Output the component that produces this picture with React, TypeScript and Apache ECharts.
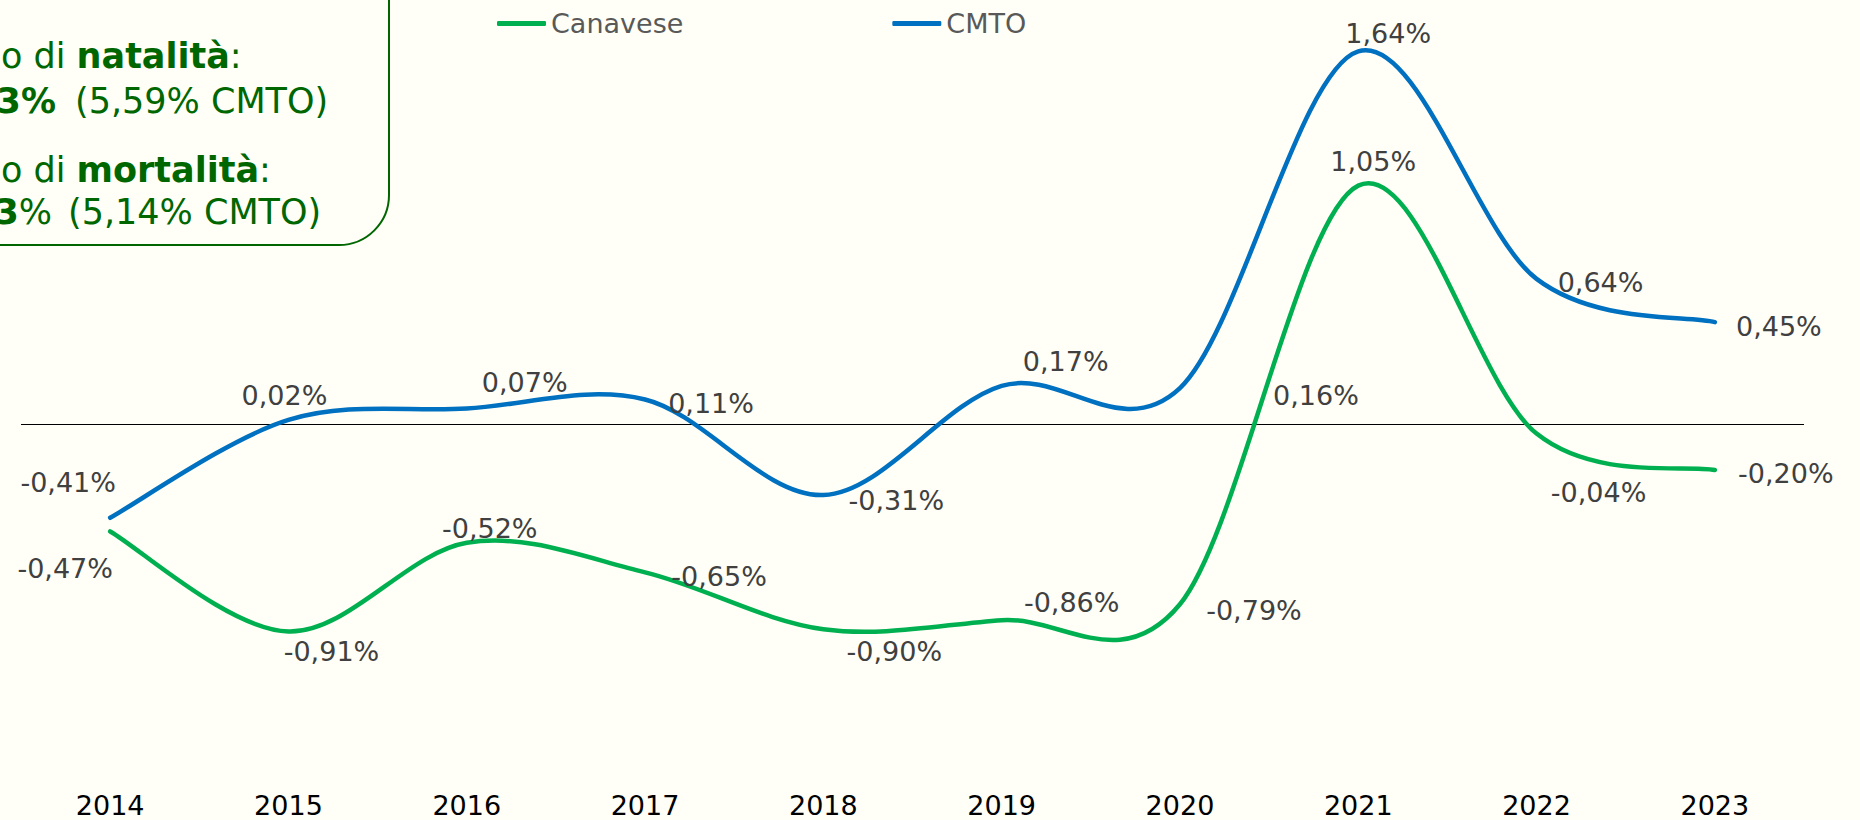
import React, { useEffect, useRef } from "react";
import * as echarts from "echarts";

// ---- data ----
const years = ["2014", "2015", "2016", "2017", "2018", "2019", "2020", "2021", "2022", "2023"];
const canavese = [-0.47, -0.91, -0.52, -0.65, -0.9, -0.86, -0.79, 1.05, -0.04, -0.2];
const cmto = [-0.41, 0.02, 0.07, 0.11, -0.31, 0.17, 0.16, 1.64, 0.64, 0.45];
const seriesNames = ["Canavese", "CMTO"];

// ---- layout (label offsets in px, relative to the point) ----
const canaveseLabelOffsets = [
  [-45, 37], [43, 20], [23, -14], [74, 4], [71, 22], [70, -18], [74, 6], [15, -24], [62, 59], [71, 3],
];
const cmtoLabelOffsets = [
  [-42, -35], [-4, -24], [58, -26], [66, 4], [73, 5], [64, -24], [136, 7], [30, -18], [64, 4], [64, 4],
];

const BG = "#FFFFF7";
const FONT = "'DejaVu Sans', Verdana, sans-serif";
const GREEN_TXT = "#006600";
const COL_CAN = "#00B050";
const COL_CMTO = "#0070C0";

const fmt = (v: number) => v.toFixed(2).replace(".", ",") + "%";

// Excel-like smooth curve (Catmull-Rom) drawn through the axis coordinates
const curveSeries = (name: string, vals: number[], color: string) => ({
  name,
  type: "custom",
  silent: true,
  z: 3,
  data: vals.map((v, i) => [i, v]),
  encode: { x: 0, y: 1 },
  itemStyle: { color },
  renderItem: (params: any, api: any) => {
    if (params.dataIndex !== 0) return null;
    const pts = vals.map((v, i) => api.coord([i, v]));
    const n = pts.length;
    let d = `M${pts[0][0]},${pts[0][1]}`;
    for (let i = 0; i < n - 1; i++) {
      const p0 = pts[Math.max(i - 1, 0)];
      const p1 = pts[i];
      const p2 = pts[i + 1];
      const p3 = pts[Math.min(i + 2, n - 1)];
      const c1x = p1[0] + (p2[0] - p0[0]) / 6;
      const c1y = p1[1] + (p2[1] - p0[1]) / 6;
      const c2x = p2[0] - (p3[0] - p1[0]) / 6;
      const c2y = p2[1] - (p3[1] - p1[1]) / 6;
      d += ` C${c1x},${c1y} ${c2x},${c2y} ${p2[0]},${p2[1]}`;
    }
    return {
      type: "path",
      shape: { pathData: d },
      style: { fill: "none", stroke: color, lineWidth: 4.5, lineCap: "round", lineJoin: "round" },
    };
  },
});

export default function App() {
  const ref = useRef<HTMLDivElement>(null);
  useEffect(() => {
    document.body.style.margin = "0";
    document.body.style.background = BG;
    const chart = echarts.init(ref.current!, undefined, { renderer: "svg" });

    const mkData = (vals: number[], offs: number[][]) =>
      vals.map((v, i) => ({ value: v, label: { offset: offs[i] } }));

    const labelBase = {
      show: true,
      position: "inside",
      align: "center",
      verticalAlign: "middle",
      color: "#404040",
      fontSize: 27,
      fontFamily: FONT,
      formatter: (p: any) => fmt(p.value),
    };

    const rich = {
      n: { fontSize: 35, fontFamily: FONT, fill: GREEN_TXT, color: GREEN_TXT, fontWeight: "normal" },
      b: { fontSize: 35, fontFamily: FONT, fill: GREEN_TXT, color: GREEN_TXT, fontWeight: "bold" },
    };

    chart.setOption({
      animation: false,
      backgroundColor: BG,
      textStyle: { fontFamily: FONT },
      grid: { left: 21, right: 56, top: 15, bottom: 54.25, containLabel: false },
      legend: {
        left: 492,
        top: 5,
        itemGap: 209,
        itemWidth: 49,
        itemHeight: 5,
        icon: "roundRect",
        textStyle: { color: "#595959", fontSize: 27, fontFamily: FONT },
        data: seriesNames,
      },
      xAxis: {
        type: "category",
        data: years,
        boundaryGap: true,
        axisLine: { show: false },
        axisTick: { show: false },
        splitLine: { show: false },
        axisLabel: { color: "#000", fontSize: 27, fontFamily: FONT, margin: 26 },
      },
      yAxis: {
        type: "value",
        min: -1.5,
        max: 1.8,
        show: false,
        splitLine: { show: false },
      },
      series: [
        {
          name: seriesNames[0],
          type: "line",
          data: mkData(canavese, canaveseLabelOffsets),
          symbol: "circle",
          symbolSize: 1,
          lineStyle: { color: COL_CAN, width: 4, opacity: 0 },
          itemStyle: { color: COL_CAN },
          label: labelBase,
          z: 4,
          markLine: {
            silent: true,
            symbol: ["none", "none"],
            label: { show: false },
            lineStyle: { color: "#000", width: 1.2, type: "solid", opacity: 1 },
            data: [{ yAxis: 0 }],
            z: 1,
          },
        },
        {
          name: seriesNames[1],
          type: "line",
          data: mkData(cmto, cmtoLabelOffsets),
          symbol: "circle",
          symbolSize: 1,
          lineStyle: { color: COL_CMTO, width: 4, opacity: 0 },
          itemStyle: { color: COL_CMTO },
          label: labelBase,
          z: 4,
        },
        curveSeries(seriesNames[0], canavese, COL_CAN),
        curveSeries(seriesNames[1], cmto, COL_CMTO),
      ],
      graphic: [
        {
          type: "rect",
          shape: { x: -60, y: -60, width: 449, height: 305, r: 50 },
          style: { fill: BG, stroke: GREEN_TXT, lineWidth: 2 },
          z: 10,
        },
        {
          type: "text",
          x: 1,
          y: 56,
          z: 11,
          style: { text: "{n|o di }{b|natalità}{n|:}", rich, fill: GREEN_TXT, verticalAlign: "middle", align: "left" },
        },
        {
          type: "text",
          x: 56,
          y: 101,
          z: 11,
          style: { text: "{b|3%}", rich, fill: GREEN_TXT, verticalAlign: "middle", align: "right" },
        },
        {
          type: "text",
          x: 75,
          y: 101,
          z: 11,
          style: { text: "{n|(5,59% CMTO)}", rich, fill: GREEN_TXT, verticalAlign: "middle", align: "left" },
        },
        {
          type: "text",
          x: 1,
          y: 170,
          z: 11,
          style: { text: "{n|o di }{b|mortalità}{n|:}", rich, fill: GREEN_TXT, verticalAlign: "middle", align: "left" },
        },
        {
          type: "text",
          x: 52,
          y: 212,
          z: 11,
          style: { text: "{b|3}{n|%}", rich, fill: GREEN_TXT, verticalAlign: "middle", align: "right" },
        },
        {
          type: "text",
          x: 68,
          y: 212,
          z: 11,
          style: { text: "{n|(5,14% CMTO)}", rich, fill: GREEN_TXT, verticalAlign: "middle", align: "left" },
        },
      ],
    });
    return () => chart.dispose();
  }, []);
  return <div ref={ref} style={{ width: 1860, height: 820, background: BG }} />;
}
